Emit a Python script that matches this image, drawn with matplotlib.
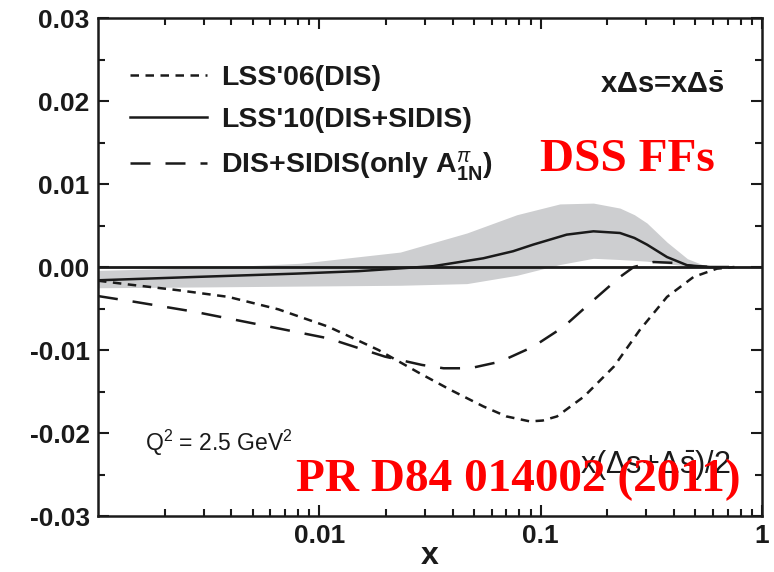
import matplotlib
matplotlib.use("Agg")
import matplotlib.pyplot as plt
from matplotlib.ticker import FixedLocator, NullFormatter, LogLocator

plt.rcParams['font.family'] = ['Liberation Sans', 'DejaVu Sans']
plt.rcParams['mathtext.fontset'] = 'custom'
plt.rcParams['mathtext.rm'] = 'Liberation Sans'
plt.rcParams['mathtext.bf'] = 'Liberation Sans:bold'
plt.rcParams['mathtext.it'] = 'Liberation Sans:italic'

# ---- data ----
x_lss06 = [0.001, 0.00137, 0.00231, 0.00388, 0.00653, 0.011, 0.0185, 0.0284, 0.0391,
           0.0551, 0.070, 0.0893, 0.102, 0.1185, 0.157, 0.214, 0.28, 0.372, 0.49, 0.625, 0.75]
y_lss06 = [-0.00165, -0.0021, -0.0028, -0.0036, -0.0051, -0.0072, -0.0100, -0.0128, -0.0148,
           -0.0168, -0.0180, -0.0186, -0.0185, -0.0180, -0.0156, -0.0120, -0.0076, -0.0036,
           -0.0012, -0.0002, 0.0]

x_only = [0.001, 0.00147, 0.00274, 0.0055, 0.011, 0.0198, 0.0291, 0.0364, 0.0479, 0.0657,
          0.0925, 0.127, 0.173, 0.228, 0.263, 0.323, 0.398, 0.49, 0.6]
y_only = [-0.0035, -0.0042, -0.0054, -0.0070, -0.0086, -0.0108, -0.0118, -0.0122, -0.0122,
          -0.0114, -0.0096, -0.0072, -0.0040, -0.0012, 0.0, 0.0006, 0.0005, 0.0001, 0.0]

x_lss10 = [0.001, 0.00274, 0.0078, 0.015, 0.022, 0.0327, 0.055, 0.075, 0.0925, 0.131, 0.173,
           0.228, 0.265, 0.302, 0.372, 0.46, 0.58, 0.7]
y_lss10 = [-0.0016, -0.0012, -0.0008, -0.0005, -0.0002, 0.0001, 0.00105, 0.0019, 0.0027,
           0.0039, 0.0043, 0.0041, 0.0035, 0.0027, 0.0012, 0.0002, 0.0, 0.0]

x_band = [0.001, 0.003, 0.0082, 0.0232, 0.0464, 0.078, 0.122, 0.173, 0.228, 0.265, 0.302,
          0.372, 0.46, 0.56, 0.65]
band_hi = [-0.0004, -0.0001, 0.00045, 0.0018, 0.0041, 0.0063, 0.0076, 0.0077, 0.0071,
           0.0063, 0.0053, 0.0030, 0.0010, 0.0001, 0.0]
band_lo = [-0.0025, -0.0024, -0.0023, -0.0022, -0.0020, -0.0010, 0.0003, 0.00105, 0.0009,
           0.0008, 0.0007, 0.0004, 0.0001, 0.0, 0.0]

labels = ["LSS'06(DIS)", "LSS'10(DIS+SIDIS)",
          r"DIS+SIDIS(only A$^{\pi}_{\mathbf{1N}}$)"]
xticks = [0.01, 0.1, 1]
xticklabels = ["0.01", "0.1", "1"]
yticks = [-0.03, -0.02, -0.01, 0.0, 0.01, 0.02, 0.03]
yticklabels = ["-0.03", "-0.02", "-0.01", "0.00", "0.01", "0.02", "0.03"]

fig = plt.figure(figsize=(7.74, 5.72), dpi=100)
ax = fig.add_axes([0.1266, 0.0979, 0.858, 0.8706])
ink = '#1a1a1a'

ax.fill_between(x_band, band_lo, band_hi, color='#cdced0', lw=0, zorder=1)
ax.axhline(0.0, color=ink, lw=2.0, zorder=2)
l1, = ax.plot(x_lss06, y_lss06, color=ink, lw=1.8, dashes=(3.4, 2.6), zorder=3)
l2, = ax.plot(x_lss10, y_lss10, color=ink, lw=1.8, zorder=3)
l3, = ax.plot(x_only, y_only, color=ink, lw=1.8, dashes=(8, 6), zorder=3)

ax.set_xscale('log')
ax.set_xlim(0.001, 1)
ax.set_ylim(-0.03, 0.03)
ax.xaxis.set_major_locator(FixedLocator(xticks))
ax.set_xticklabels(xticklabels)
ax.xaxis.set_minor_locator(LogLocator(base=10, subs=range(2, 10)))
ax.xaxis.set_minor_formatter(NullFormatter())
ax.set_yticks(yticks)
ax.set_yticklabels(yticklabels)
ax.yaxis.set_minor_locator(FixedLocator([-0.025, -0.015, -0.005, 0.005, 0.015, 0.025]))

for s in ax.spines.values():
    s.set_linewidth(1.8)
    s.set_color(ink)
ax.tick_params(which='both', direction='in', top=True, right=True, color=ink, width=1.5)
ax.tick_params(which='major', length=8, labelsize=19, pad=6, labelcolor=ink)
ax.tick_params(which='minor', length=5)
for t in ax.get_xticklabels() + ax.get_yticklabels():
    t.set_fontweight('bold')

ax.set_xlabel('x', fontsize=23, fontweight='bold', color=ink, labelpad=-5)

leg = ax.legend([l1, l2, l3], labels, loc='upper left', bbox_to_anchor=(0.048, 0.905),
                frameon=False, handlelength=2.7, handletextpad=0.5, borderpad=0,
                borderaxespad=0, labelspacing=0.56, prop={'weight': 'bold', 'size': 20.5})
for t in leg.get_texts():
    t.set_color(ink)

ax.text(0.944, 0.865, r'xΔs=xΔ$\bar{\mathbf{s}}$', transform=ax.transAxes,
        ha='right', va='center', fontsize=21, fontweight='bold', color=ink)
ax.text(0.071, 0.146, r'Q$^2$ = 2.5 GeV$^2$', transform=ax.transAxes, ha='left',
        va='center', fontsize=16.5, color=ink)
ax.text(0.952, 0.102, r'x(Δs+Δ$\bar{\mathrm{s}}$)/2', transform=ax.transAxes,
        ha='right', va='center', fontsize=22, color=ink, zorder=4)
ax.text(0.929, 0.715, 'DSS FFs', transform=ax.transAxes, ha='right', va='center',
        fontsize=34, fontweight='bold', color='#ff0000', family='Liberation Serif', zorder=5)
ax.text(0.967, 0.072, 'PR D84 014002 (2011)', transform=ax.transAxes, ha='right',
        va='center', fontsize=34, fontweight='bold', color='#ff0000',
        family='Liberation Serif', zorder=5)

fig.savefig('out.png', dpi=100)
